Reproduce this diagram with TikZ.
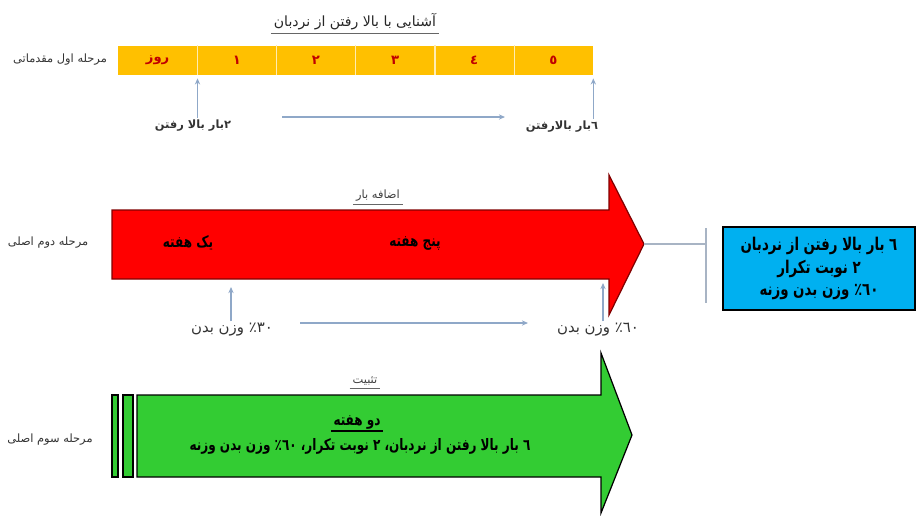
\documentclass[tikz,border=0pt]{standalone}
\usepackage{fontspec}
\newfontfamily\fa[Script=Arabic]{DejaVu Sans}
\newfontfamily\facond[Script=Arabic,FakeStretch=0.76]{DejaVu Sans}
\TeXXeTstate=1
\usetikzlibrary{arrows.meta}
\definecolor{barGold}{HTML}{FFC000}
\definecolor{dayRed}{HTML}{C00000}
\definecolor{linkBlue}{HTML}{8FA8C8}
\definecolor{linkGray}{HTML}{A8B4C4}
\definecolor{boxBlue}{HTML}{00B0F0}
\definecolor{stageGreen}{HTML}{33CC33}
\begin{document}
\begin{tikzpicture}[x=0.02cm,y=-0.02cm,
  small/.style={font=\fa\fontsize{6.5}{8}\selectfont, text=black!80, inner sep=1pt},
  heading/.style={font=\fa\fontsize{6.5}{8}\selectfont, text=black!75, inner sep=1.5pt},
  strong/.style={font=\facond\bfseries\fontsize{9}{11}\selectfont, text=black, inner sep=1pt},
  cell/.style={fill=barGold, minimum width=1.583cm, minimum height=0.58cm, inner sep=0pt,
               font=\fa\bfseries\fontsize{7.5}{9}\selectfont, text=dayRed},
  link/.style={draw=linkBlue, line width=0.6pt, -{Stealth[length=3.5pt,width=3pt]}},
  plain/.style={draw=linkGray, line width=0.8pt}]
\useasboundingbox (0,0) rectangle (917,515);

% ---------- stage one ----------
\node[heading, font=\fa\fontsize{8}{10}\selectfont, text=black!85] (title) at (355,22) {\beginR آشنایی با بالا رفتن از نردبان\endR};
\draw[black!60, line width=0.4pt] (title.south west) -- (title.south east);

\node[cell] (c0) at (157.6,60) {\beginR روز\endR};
\node[cell] (c1) at (236.8,60) {١};
\node[cell] (c2) at (315.9,60) {٢};
\node[cell] (c3) at (395.1,60) {٣};
\node[cell] (c4) at (474.2,60) {٤};
\node[cell] (c5) at (553.4,60) {٥};
\foreach \a/\b in {c0/c1,c1/c2,c2/c3,c3/c4,c4/c5}
  \draw[white!70!barGold, line width=0.6pt] (\a.north east) -- (\a.south east);

\node[small] (s1) at (60,60) {\beginR مرحله اول مقدماتی\endR};

\node[small, font=\fa\bfseries\fontsize{6.5}{8}\selectfont] (up2) at (193,126) {\beginR ٢بار بالا رفتن\endR};
\node[small, font=\fa\bfseries\fontsize{6.5}{8}\selectfont] (up6) at (562,127) {\beginR ٦بار بالارفتن\endR};
\draw[link] (up2.north -| c0.south east) -- ([yshift=-2pt]c0.south east);
\draw[link] (up6.north -| c5.south east) -- ([yshift=-2pt]c5.south east);
\coordinate (p1) at (282,117);
\coordinate (p2) at (505,117);
\draw[link] (p1) -- (p2);

% ---------- stage two ----------
\node[heading] (load) at (378,196) {\beginR اضافه بار\endR};
\draw[black!60, line width=0.4pt] (load.south west) -- (load.south east);

\node[small] (s2) at (48,243) {\beginR مرحله دوم اصلی\endR};

\node[small, font=\fa\fontsize{8.5}{10}\selectfont] (w30) at (232,330) {\beginR ٣٠٪ وزن بدن\endR};
\node[small, font=\fa\fontsize{8.5}{10}\selectfont] (w60) at (598,330) {\beginR ٦٠٪ وزن بدن\endR};
\coordinate (m30) at (231,287);
\coordinate (m60) at (603,283);
\draw[link] (w30.north -| m30) -- (m30);
\draw[link] (w60.north -| m60) -- (m60);
\coordinate (q1) at (300,323);
\coordinate (q2) at (528,323);
\draw[link] (q1) -- (q2);

\draw[fill=red, draw=red!50!black, line width=0.7pt]
  (112,210) -- (609,210) -- (609,175) -- (644,244) -- (609,315) -- (609,279) -- (112,279) -- cycle;
\coordinate (redtip) at (644,244);
\node[strong] (w1) at (188,243) {\beginR یک هفته\endR};
\node[strong] (w5) at (415,243) {\beginR پنج هفته\endR};

\node[draw=black, line width=0.7pt, fill=boxBlue, minimum width=3.84cm, minimum height=1.66cm,
      align=center, font=\facond\bfseries\fontsize{10}{13}\selectfont, inner sep=2pt]
  (goal) at (819,268.5)
  {\beginR ٦ بار بالا رفتن از نردبان\endR\\ \beginR ٢ نوبت تکرار\endR\\ \beginR ٦٠٪ وزن بدن وزنه\endR};
\coordinate (brk) at (706,244);
\draw[plain] (redtip) -- (brk);
\draw[plain] (706,228) -- (706,303);

% ---------- stage three ----------
\node[heading] (fix) at (365,381) {\beginR تثبیت\endR};
\draw[black!60, line width=0.4pt] (fix.south west) -- (fix.south east);

\node[small] (s3) at (50,440) {\beginR مرحله سوم اصلی\endR};

\draw[fill=stageGreen, draw=black, line width=0.7pt] (112,395) rectangle (118,477);
\draw[fill=stageGreen, draw=black, line width=0.7pt] (123,395) rectangle (133,477);
\draw[fill=stageGreen, draw=black, line width=0.7pt]
  (137,395) -- (601,395) -- (601,353) -- (632,435) -- (601,513) -- (601,477) -- (137,477) -- cycle;

\node[strong, font=\facond\bfseries\fontsize{9}{11}\selectfont] (two) at (357,422) {\beginR دو هفته\endR};
\draw[black, line width=0.6pt] (two.south west) -- (two.south east);
\node[strong, font=\facond\bfseries\fontsize{9}{11}\selectfont] (plan) at (360,446)
  {\beginR ٦ بار بالا رفتن از نردبان، ٢ نوبت تکرار، ٦٠٪ وزن بدن وزنه\endR};
\end{tikzpicture}
\end{document}
